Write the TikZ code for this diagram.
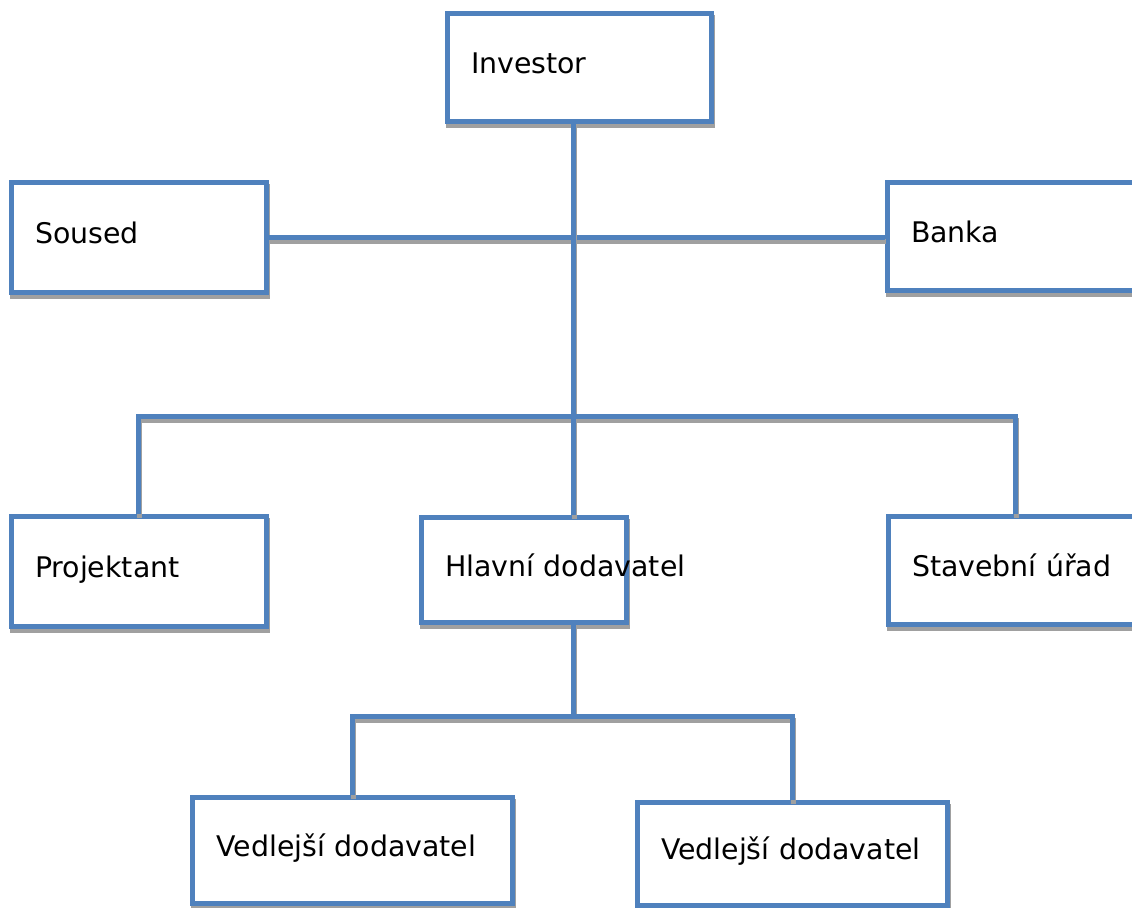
\documentclass[tikz,border=0pt]{standalone}
\usepackage{fontspec}
\setmainfont{DejaVu Sans}
\usepackage{tikz}
\usetikzlibrary{positioning,calc}
\definecolor{boxblue}{RGB}{79,129,189}
\definecolor{shadegray}{RGB}{160,160,160}

\begin{document}
\begin{tikzpicture}[x=0.5pt,y=-0.5pt,
  shade/.style={preaction={draw=shadegray,line width=2.5pt,transform canvas={shift={(1,4)}}}},
  box/.style 2 args={draw=boxblue,line width=2.5pt,fill=white,shade,
                minimum width=#1,minimum height=#2,inner xsep=12pt,
                font=\fontsize{14.2}{16}\selectfont,text height=10pt,text depth=4pt},
  conn/.style={draw=boxblue,line width=2.5pt,shade}
]
\clip (0,0) rectangle (1132,908);

\node[box={132pt}{54pt},text width=108pt]     (inv)  at (579,68)    {Investor};
\node[box={127.5pt}{55pt},text width=103.5pt] (sou)  at (138.5,238) {Soused};
\node[box={127.5pt}{54pt},text width=103.5pt] (ban)  at (1014.5,237) {Banka};
\node[box={127.5pt}{55pt},text width=103.5pt] (pro)  at (138.5,572) {Projektant};
\node[box={102.5pt}{52.5pt},text width=78.5pt] (hla) at (523.5,570.5) {\rlap{Hlavní dodavatel}};
\node[box={127.5pt}{54pt},text width=103.5pt] (sta)  at (1015.5,571) {Stavební úřad};
\node[box={160pt}{53pt},text width=136pt]     (ved1) at (352.5,851)  {Vedlejší dodavatel};
\node[box={155pt}{51.5pt},text width=131pt]   (ved2) at (792,854)   {Vedlejší dodavatel};

\coordinate (j1) at (573,237);
\coordinate (j2) at (573,417);
\coordinate (j3) at (573,717);

\draw[conn] (sou.east) -- (sou.east -| ban.west);
\draw[conn] (inv.south -| j2) -- (j2);
\draw[conn] (pro.north) |- (j2) -| (sta.north);
\draw[conn] (j2) -- (hla.north -| j2);
\draw[conn] (hla.south -| j3) -- (j3);
\draw[conn] (ved1.north) |- (j3) -| (ved2.north);
\end{tikzpicture}
\end{document}
